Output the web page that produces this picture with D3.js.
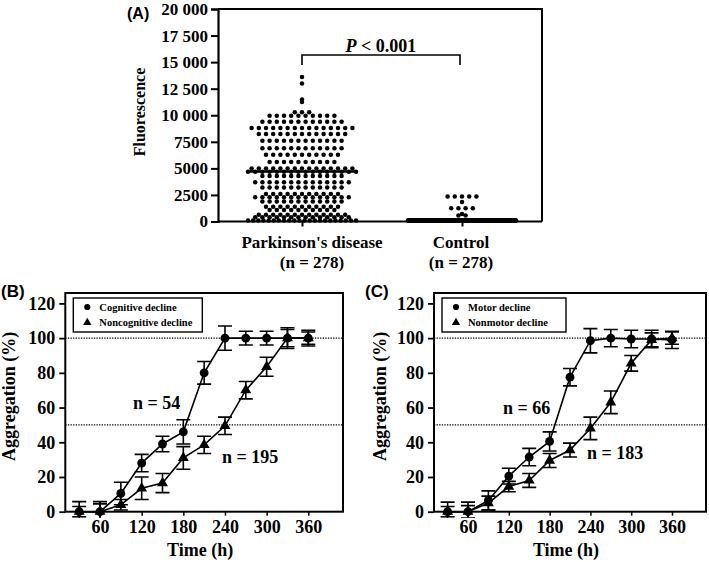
<!DOCTYPE html>
<html>
<head>
<meta charset="utf-8">
<script src="https://cdn.jsdelivr.net/npm/d3@7"></script>
<style>
  html, body { margin: 0; padding: 0; background: #fff; }
  svg { display: block; }
  .serif { font-family: "Liberation Serif", "Times New Roman", serif; font-weight: bold; }
  .sans { font-family: "Liberation Sans", Arial, sans-serif; font-weight: bold; }
</style>
</head>
<body>
<script>
// ---------------- DATA ----------------
// Panel A: dot plot, rows of [fluorescence value, number of subjects]
const pdRows = [
  [13500,1],[12900,1],[11400,1],[11150,1],[10200,3],[9850,10],[9300,12],[8700,15],
  [8150,13],[7500,12],[6800,12],[6200,11],[5500,10],[4900,15],[4600,16],[4200,12],
  [3600,14],[3100,12],[2500,11],[2200,14],[1800,12],[1300,11],[1000,10],[550,13],
  [300,14],[0,22]
];
const ctrlRows = [
  [2250,5],[1750,1],[1150,4],[620,1],[480,2],[0,265]
];
const groupsA = ["Parkinson's disease", "Control"];
const groupN = ["(n = 278)", "(n = 278)"];
const mediansA = [4700, 0];
const yTicksA = [0, 2500, 5000, 7500, 10000, 12500, 15000, 17500, 20000];
const yTickLabelsA = ["0", "2500", "5000", "7500", "10 000", "12 500", "15 000", "17 500", "20 000"];

// Panels B and C: aggregation over time
const times = [30, 60, 90, 120, 150, 180, 210, 240, 270, 300, 330, 360];
const xTicksBC = [60, 120, 180, 240, 300, 360];
const yTicksBC = [0, 20, 40, 60, 80, 100, 120];

const cognitive      = [0, 0, 10.5, 28, 39, 46, 80, 100, 100, 100, 100, 100];
const cognitiveErr   = [5.8, 5.8, 6.5, 5, 4.5, 7, 6.5, 7, 4, 4, 6, 4.5];
const noncognitive   = [0, 0, 4, 13.5, 16.5, 31, 38.5, 49.5, 70, 83.5, 100, 100];
const noncognitiveErr= [3, 4.5, 3, 6.5, 5.5, 6.5, 5, 5, 5, 5.5, 5, 3.5];

const motor          = [0, 0, 6.5, 20.5, 31.5, 40.5, 77.5, 98.5, 100, 99.5, 99.5, 99];
const motorErr       = [5.5, 5.5, 5.5, 4.5, 5, 5.5, 5, 7, 5, 5, 5, 5];
const nonmotor       = [0, 0, 5, 14.5, 18, 29.5, 35.5, 48, 63, 85.5, 99, 100];
const nonmotorErr    = [3, 3.5, 4, 3, 4, 4, 4, 6.5, 6.5, 4.5, 4, 3.5];

// ---------------- DRAW ----------------
const W = 709, H = 562;
const svg = d3.select("body").append("svg").attr("width", W).attr("height", H);

// ===== Panel A =====
(function panelA() {
  const left = 218, right = 542, top = 9, bottom = 221.5;
  const y = d3.scaleLinear().domain([0, 20000]).range([bottom, top]);
  const x = d3.scalePoint().domain(groupsA).range([302, 462]);
  const g = svg.append("g");

  g.append("path")
    .attr("d", `M${left},${top}H${right}V${bottom}`)
    .attr("fill", "none").attr("stroke", "#000").attr("stroke-width", 2);

  const ya = g.append("g").attr("transform", `translate(${left},0)`)
    .call(d3.axisLeft(y).tickValues(yTicksA).tickSize(7).tickPadding(3)
      .tickFormat((d, i) => yTickLabelsA[i]));
  ya.select(".domain").attr("stroke-width", 2.2);
  ya.selectAll(".tick line").attr("stroke-width", 2);
  ya.selectAll("text").attr("class", "serif").attr("font-size", 17).attr("fill", "#000");

  const xa = g.append("g").attr("transform", `translate(0,${bottom})`)
    .call(d3.axisBottom(x).tickSize(5).tickFormat(""));
  xa.select(".domain").attr("d", `M${left},0H${right}`).attr("stroke-width", 2.2);
  xa.selectAll(".tick line").attr("stroke-width", 2);

  groupsA.forEach((grp, i) => {
    const cx = x(grp) + (i === 0 ? 10 : -1);
    const t = g.append("text").attr("class", "serif").attr("font-size", 17)
      .attr("text-anchor", "middle").attr("x", cx);
    t.append("tspan").attr("x", cx).attr("y", 248).text(grp);
    t.append("tspan").attr("x", cx).attr("y", 268).text(groupN[i]);
  });

  g.append("text").attr("class", "serif").attr("font-size", 16)
    .attr("transform", `translate(145,112) rotate(-90)`)
    .attr("text-anchor", "middle").text("Fluorescence");

  g.append("text").attr("class", "sans").attr("font-size", 16)
    .attr("x", 127).attr("y", 19).text("(A)");

  const maxWidth = 108, step = 7.2;
  function drawRows(rows, grp) {
    const cx = x(grp);
    const pts = [];
    rows.forEach(([v, n]) => {
      const s = Math.min(step, maxWidth / Math.max(n - 1, 1));
      for (let i = 0; i < n; i++) pts.push([cx + (i - (n - 1) / 2) * s, y(v)]);
    });
    g.append("g").selectAll("circle").data(pts).join("circle")
      .attr("cx", d => d[0]).attr("cy", d => d[1] - 1).attr("r", 2.25).attr("fill", "#000");
  }
  drawRows(pdRows, groupsA[0]);
  drawRows(ctrlRows, groupsA[1]);

  const medW = [[247, 355], [410, 515]];
  mediansA.forEach((m, i) => {
    g.append("line").attr("x1", medW[i][0]).attr("x2", medW[i][1])
      .attr("y1", y(m)).attr("y2", y(m)).attr("stroke", "#000").attr("stroke-width", 2.5);
  });

  const by = 55;
  g.append("path")
    .attr("d", `M${x(groupsA[0])},65V${by}H${x(groupsA[1]) - 2}V65`)
    .attr("fill", "none").attr("stroke", "#000").attr("stroke-width", 1.6);
  const pt = g.append("text").attr("class", "serif").attr("font-size", 18)
    .attr("text-anchor", "middle").attr("x", 381).attr("y", 52);
  pt.append("tspan").attr("font-style", "italic").text("P");
  pt.append("tspan").text(" < 0.001");
})();

// ===== Panels B & C =====
function panel(opts) {
  const { left, right, label, labelX, yLabelX, s1, e1, s2, e2, names, nLabels } = opts;
  const top = 293, bottom = 511.7;
  const x = d3.scaleLinear().domain([10, 410]).range([left, right]);
  const y = d3.scaleLinear().domain([0, 126]).range([bottom, top]);
  const g = svg.append("g");
  const clipId = "clip" + label.replace(/\W/g, "");
  svg.append("defs").append("clipPath").attr("id", clipId)
    .append("rect").attr("x", left - 20).attr("y", top - 20)
    .attr("width", right - left + 40).attr("height", bottom - top + 26);

  g.append("rect").attr("x", left).attr("y", top).attr("width", right - left)
    .attr("height", bottom - top).attr("fill", "none").attr("stroke", "#000").attr("stroke-width", 2);

  const ya = g.append("g").attr("transform", `translate(${left},0)`)
    .call(d3.axisLeft(y).tickValues(yTicksBC).tickSize(6).tickPadding(4));
  ya.select(".domain").remove();
  ya.selectAll(".tick line").attr("stroke-width", 1.8);
  ya.selectAll("text").attr("class", "serif").attr("font-size", 18).attr("fill", "#000");

  const xa = g.append("g").attr("transform", `translate(0,${bottom})`)
    .call(d3.axisBottom(x).tickValues(xTicksBC).tickSize(4).tickPadding(5));
  xa.select(".domain").remove();
  xa.selectAll(".tick line").attr("stroke-width", 1.5);
  xa.selectAll("text").attr("class", "serif").attr("font-size", 18).attr("fill", "#000");

  [100, 50].forEach(v => {
    g.append("line").attr("x1", left).attr("x2", right).attr("y1", y(v)).attr("y2", y(v))
      .attr("stroke", "#000").attr("stroke-width", 1.3).attr("stroke-dasharray", "1.3,1.3");
  });

  g.append("text").attr("class", "serif").attr("font-size", 18).attr("text-anchor", "middle")
    .attr("transform", `translate(${yLabelX},${(top + bottom) / 2 - 6}) rotate(-90)`)
    .text("Aggregation (%)");
  g.append("text").attr("class", "serif").attr("font-size", 18).attr("text-anchor", "middle")
    .attr("x", (left + right) / 2 - 4).attr("y", 556).text("Time (h)");

  g.append("text").attr("class", "sans").attr("font-size", 17)
    .attr("x", labelX).attr("y", 297).text(label);

  const line = d3.line().x((d, i) => x(times[i])).y(d => y(d));
  const series = [
    { vals: s1, err: e1, sym: d3.symbolCircle, size: 62 },
    { vals: s2, err: e2, sym: d3.symbolTriangle, size: 52 }
  ];
  const plot = g.append("g").attr("clip-path", `url(#${clipId})`);
  series.forEach(s => {
    plot.append("path").datum(s.vals).attr("d", line)
      .attr("fill", "none").attr("stroke", "#000").attr("stroke-width", 1.6);
    const eb = plot.append("g");
    s.vals.forEach((v, i) => {
      const cx = x(times[i]);
      const hi = y(v + s.err[i]), lo = y(v - s.err[i]);
      eb.append("path")
        .attr("d", `M${cx},${hi}V${lo}M${cx - 7},${hi}H${cx + 7}M${cx - 7},${lo}H${cx + 7}`)
        .attr("fill", "none").attr("stroke", "#000").attr("stroke-width", 1.6);
    });
  });
  series.forEach(s => {
    plot.append("g").selectAll("path").data(s.vals).join("path")
      .attr("transform", (d, i) => `translate(${x(times[i])},${y(d)})`)
      .attr("d", d3.symbol().type(s.sym).size(s.size)).attr("fill", "#000");
  });

  const lx = left + 8, ly = 298;
  g.append("rect").attr("x", lx).attr("y", ly).attr("width", opts.legendW).attr("height", 34)
    .attr("fill", "#fff").attr("stroke", "#000").attr("stroke-width", 1.4);
  series.forEach((s, i) => {
    const yy = ly + 9 + i * 15.5;
    g.append("path").attr("transform", `translate(${lx + 14},${yy})`)
      .attr("d", d3.symbol().type(s.sym).size(30)).attr("fill", "#000");
    g.append("text").attr("class", "serif").attr("font-size", 10.5)
      .attr("x", lx + 26).attr("y", yy + 3.8).text(names[i]);
  });

  nLabels.forEach(n => {
    g.append("text").attr("class", "serif").attr("font-size", 18)
      .attr("x", n.x).attr("y", n.y).text(n.t);
  });
}

panel({
  left: 65.3, right: 343, label: "(B)", labelX: 1, yLabelX: 15,
  s1: cognitive, e1: cognitiveErr, s2: noncognitive, e2: noncognitiveErr,
  names: ["Cognitive decline", "Noncognitive decline"], legendW: 129,
  nLabels: [{ t: "n = 54", x: 133, y: 409 }, { t: "n = 195", x: 222, y: 463 }]
});
panel({
  left: 434, right: 706, label: "(C)", labelX: 365, yLabelX: 386,
  s1: motor, e1: motorErr, s2: nonmotor, e2: nonmotorErr,
  names: ["Motor decline", "Nonmotor decline"], legendW: 124,
  nLabels: [{ t: "n = 66", x: 503, y: 414 }, { t: "n = 183", x: 587, y: 459 }]
});
</script>
</body>
</html>
